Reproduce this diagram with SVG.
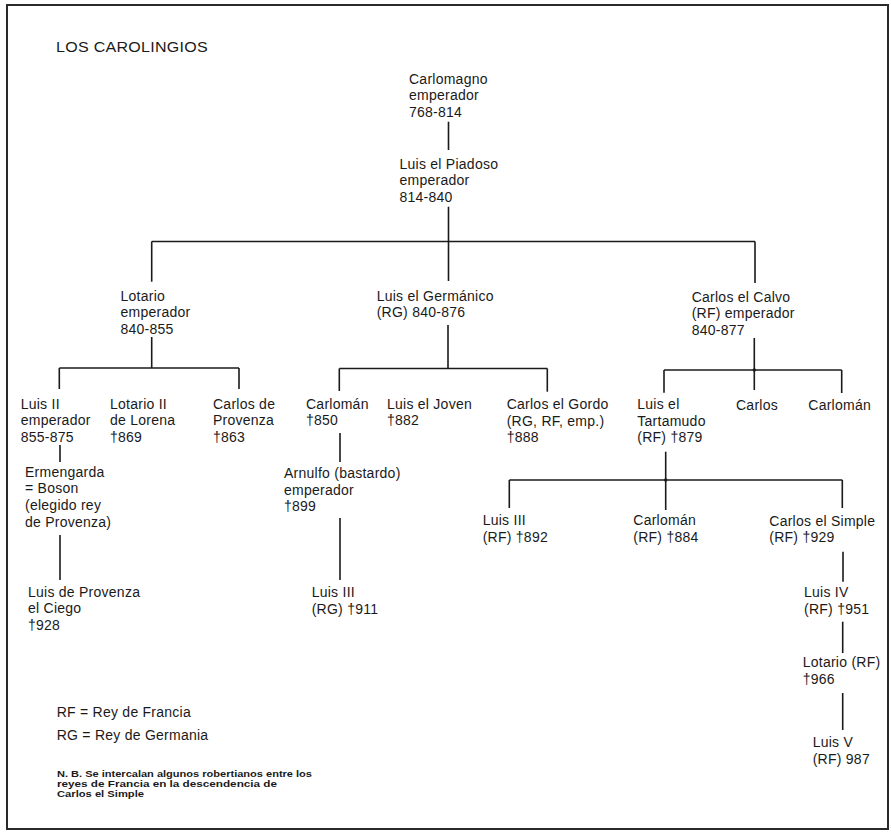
<svg xmlns="http://www.w3.org/2000/svg" width="891" height="834" viewBox="0 0 891 834">
<style>
.t { font-family: "Liberation Sans", Arial, sans-serif; font-size: 14px; letter-spacing: 0.25px; fill: #1a1a1a; }
.n { font-family: "Liberation Sans", Arial, sans-serif; font-size: 8.5px; font-weight: bold; fill: #1a1a1a; }
.c line { stroke: #1a1a1a; stroke-width: 1.6; fill: none; }
.c circle { fill: #1a1a1a; }
</style>
<rect x="7" y="5" width="881" height="824" fill="#ffffff" stroke="#2a2a2a" stroke-width="2"/>
<text class="t" x="56" y="51.7" textLength="152" lengthAdjust="spacingAndGlyphs">LOS CAROLINGIOS</text>

<g class="c" id="connectors">
  <line x1="448.5" y1="121.7" x2="448.5" y2="150"/>
  <line x1="448.5" y1="206.7" x2="448.5" y2="281"/>
  <line x1="151.7" y1="241.5" x2="755" y2="241.5"/>
  <line x1="151.7" y1="241.5" x2="151.7" y2="281.7"/>
  <line x1="755" y1="241.5" x2="755" y2="283"/>

  <line x1="151.7" y1="337" x2="151.7" y2="368"/>
  <line x1="59.3" y1="368" x2="239" y2="368"/>
  <line x1="59.3" y1="368" x2="59.3" y2="389"/>
  <line x1="239" y1="368" x2="239" y2="389"/>

  <line x1="448" y1="325" x2="448" y2="368.5"/>
  <line x1="339.3" y1="368.5" x2="547.3" y2="368.5"/>
  <line x1="339.3" y1="368.5" x2="339.3" y2="391"/>
  <line x1="547.3" y1="368.5" x2="547.3" y2="391.7"/>

  <line x1="754.3" y1="338" x2="754.3" y2="390"/>
  <line x1="664" y1="370" x2="841.7" y2="370"/>
  <line x1="664" y1="370" x2="664" y2="392.7"/>
  <line x1="841.7" y1="370" x2="841.7" y2="393"/>
  <circle cx="754.3" cy="370" r="1.7"/>

  <line x1="60" y1="445" x2="60" y2="462"/>
  <line x1="60" y1="535" x2="60" y2="580"/>

  <line x1="340" y1="433" x2="340" y2="462"/>
  <line x1="340" y1="518" x2="340" y2="580"/>

  <line x1="665.7" y1="451.7" x2="665.7" y2="510"/>
  <line x1="509.3" y1="480" x2="842.3" y2="480"/>
  <line x1="509.3" y1="480" x2="509.3" y2="508"/>
  <line x1="842.3" y1="480" x2="842.3" y2="508"/>
  <circle cx="665.7" cy="480" r="1.7"/>

  <line x1="843" y1="551.7" x2="843" y2="581.7"/>
  <line x1="842.7" y1="621.7" x2="842.7" y2="653"/>
  <line x1="842.7" y1="693" x2="842.7" y2="730"/>
</g>

<g id="carlomagno"><text class="t" x="409" y="83.5"><tspan x="409">Carlomagno</tspan><tspan x="409" dy="16.7">emperador</tspan><tspan x="409" dy="16.7">768-814</tspan></text></g>
<g id="luis-piadoso"><text class="t" x="399.5" y="168.5"><tspan x="399.5">Luis el Piadoso</tspan><tspan x="399.5" dy="16.7">emperador</tspan><tspan x="399.5" dy="16.7">814-840</tspan></text></g>

<g id="lotario"><text class="t" x="120.5" y="300.5"><tspan x="120.5">Lotario</tspan><tspan x="120.5" dy="16.7">emperador</tspan><tspan x="120.5" dy="16.7">840-855</tspan></text></g>
<g id="luis-germanico"><text class="t" x="376.7" y="300.7"><tspan x="376.7">Luis el Germánico</tspan><tspan x="376.7" dy="16.7">(RG) 840-876</tspan></text></g>
<g id="carlos-calvo"><text class="t" x="691.7" y="301.7"><tspan x="691.7">Carlos el Calvo</tspan><tspan x="691.7" dy="16.7">(RF) emperador</tspan><tspan x="691.7" dy="16.7">840-877</tspan></text></g>

<g id="luis-ii"><text class="t" x="20.7" y="408.5"><tspan x="20.7">Luis II</tspan><tspan x="20.7" dy="16.7">emperador</tspan><tspan x="20.7" dy="16.7">855-875</tspan></text></g>
<g id="lotario-ii"><text class="t" x="110" y="408.5"><tspan x="110">Lotario II</tspan><tspan x="110" dy="16.7">de Lorena</tspan><tspan x="110" dy="16.7">†869</tspan></text></g>
<g id="carlos-provenza"><text class="t" x="213" y="408.5"><tspan x="213">Carlos de</tspan><tspan x="213" dy="16.7">Provenza</tspan><tspan x="213" dy="16.7">†863</tspan></text></g>
<g id="carloman-850"><text class="t" x="306" y="408.5"><tspan x="306">Carlomán</tspan><tspan x="306" dy="16.7">†850</tspan></text></g>
<g id="luis-joven"><text class="t" x="387" y="408.5"><tspan x="387">Luis el Joven</tspan><tspan x="387" dy="16.7">†882</tspan></text></g>
<g id="carlos-gordo"><text class="t" x="506.7" y="409"><tspan x="506.7">Carlos el Gordo</tspan><tspan x="506.7" dy="16.7">(RG, RF, emp.)</tspan><tspan x="506.7" dy="16.7">†888</tspan></text></g>
<g id="luis-tartamudo"><text class="t" x="637.3" y="409"><tspan x="637.3">Luis el</tspan><tspan x="637.3" dy="16.7">Tartamudo</tspan><tspan x="637.3" dy="16.7">(RF) †879</tspan></text></g>
<g id="carlos"><text class="t" x="736" y="409.5">Carlos</text></g>
<g id="carloman-calvo"><text class="t" x="808.3" y="409.5">Carlomán</text></g>

<g id="ermengarda"><text class="t" x="25" y="476.7"><tspan x="25">Ermengarda</tspan><tspan x="25" dy="16.7">= Boson</tspan><tspan x="25" dy="16.7">(elegido rey</tspan><tspan x="25" dy="16.7">de Provenza)</tspan></text></g>
<g id="arnulfo"><text class="t" x="284" y="478"><tspan x="284">Arnulfo (bastardo)</tspan><tspan x="284" dy="16.7">emperador</tspan><tspan x="284" dy="16.7">†899</tspan></text></g>

<g id="luis-iii-rf"><text class="t" x="482.7" y="525"><tspan x="482.7">Luis III</tspan><tspan x="482.7" dy="16.7">(RF) †892</tspan></text></g>
<g id="carloman-rf"><text class="t" x="633.3" y="525"><tspan x="633.3">Carlomán</tspan><tspan x="633.3" dy="16.7">(RF) †884</tspan></text></g>
<g id="carlos-simple"><text class="t" x="769.3" y="525.5"><tspan x="769.3">Carlos el Simple</tspan><tspan x="769.3" dy="16.7">(RF) †929</tspan></text></g>

<g id="luis-provenza"><text class="t" x="28" y="596.7"><tspan x="28">Luis de Provenza</tspan><tspan x="28" dy="16.7">el Ciego</tspan><tspan x="28" dy="16.7">†928</tspan></text></g>
<g id="luis-iii-rg"><text class="t" x="311.7" y="597"><tspan x="311.7">Luis III</tspan><tspan x="311.7" dy="16.7">(RG) †911</tspan></text></g>
<g id="luis-iv"><text class="t" x="804" y="597"><tspan x="804">Luis IV</tspan><tspan x="804" dy="16.7">(RF) †951</tspan></text></g>
<g id="lotario-rf"><text class="t" x="802.7" y="667"><tspan x="802.7">Lotario (RF)</tspan><tspan x="802.7" dy="16.7">†966</tspan></text></g>
<g id="luis-v"><text class="t" x="812.7" y="747"><tspan x="812.7">Luis V</tspan><tspan x="812.7" dy="16.7">(RF) 987</tspan></text></g>

<g id="legend">
  <text class="t" x="56.7" y="716.7">RF = Rey de Francia</text>
  <text class="t" x="56.7" y="740">RG = Rey de Germania</text>
  <text class="n" x="57" y="777" textLength="255" lengthAdjust="spacingAndGlyphs">N. B. Se intercalan algunos robertianos entre los</text>
  <text class="n" x="57" y="787" textLength="220" lengthAdjust="spacingAndGlyphs">reyes de Francia en la descendencia de</text>
  <text class="n" x="57" y="797" textLength="87" lengthAdjust="spacingAndGlyphs">Carlos el Simple</text>
</g>
</svg>
